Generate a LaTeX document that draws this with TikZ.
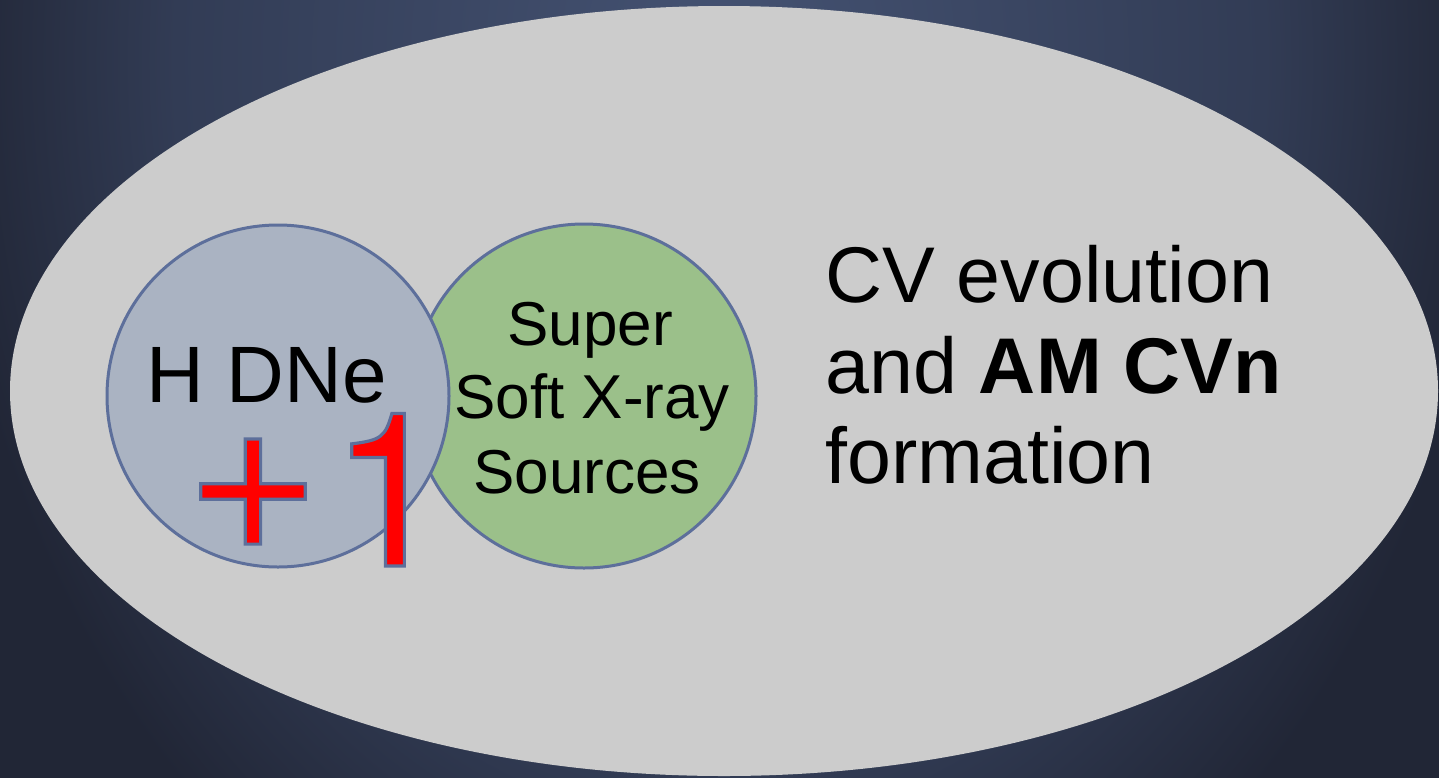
\documentclass[tikz,border=0pt]{standalone}
\usepackage{fontspec}
\setmainfont{Liberation Sans}
\newfontfamily\heros{TeX Gyre Heros}
\usetikzlibrary{shapes.geometric}
\definecolor{bgA}{HTML}{445272}
\definecolor{bgB}{HTML}{323C55}
\definecolor{bgC}{HTML}{212636}
\definecolor{ellgray}{HTML}{CCCCCC}
\definecolor{hdneblue}{HTML}{AAB3C2}
\definecolor{ssgreen}{HTML}{9BC08A}
\definecolor{rimblue}{HTML}{5D6F9B}
\pgfdeclareradialshading{bgshade}{\pgfpoint{0bp}{0bp}}{color(0bp)=(bgA); color(35bp)=(bgB); color(50bp)=(bgC)}
\newcommand\outlinedtext[1]{\special{pdf:literal direct 2 Tr 3.2 w 0.365 0.435 0.608 RG}#1\special{pdf:literal direct 0 Tr}}
\tikzset{
  bigell/.style={ellipse, fill=ellgray, draw=none, inner sep=0pt, minimum width=1428pt, minimum height=770pt},
  venn/.style={circle, draw=rimblue, line width=3pt, inner sep=0pt},
  lbl/.style={inner sep=0pt, text=black},
  hdnefont/.style={font=\fontsize{80}{96}\selectfont},
  ssfont/.style={font=\fontsize{62}{74}\selectfont},
  cvfont/.style={font=\fontsize{79}{90}\selectfont},
  plusone/.style={inner sep=0pt, text=red, font=\fontsize{215}{240}\selectfont}
}
\begin{document}
\begin{tikzpicture}[x=1pt,y=-1pt]
\useasboundingbox (0,0) rectangle (1439,777);
\fill[bgC] (-5,-5) rectangle (1444,782);
\begin{scope}[transform canvas={shift={(720,60)}, xscale=15.5, yscale=20}]
  \node[inner sep=0pt] (bgsh) at (0,0) {\pgfuseshading{bgshade}};
\end{scope}
\node[bigell] (field) at (724,391) {};
\node[venn, fill=ssgreen, minimum size=344pt] (sss) at (584,396) {};
\node[venn, fill=hdneblue, minimum size=342pt] (hdne) at (278,396) {};
\node[lbl, hdnefont, anchor=base] (hdnetxt) at (267,402) {H DNe};
\node[lbl, ssfont, anchor=base] (ss1) at (590,345) {Super};
\node[lbl, ssfont, anchor=base] (ss2) at (592,418) {Soft X-ray};
\node[lbl, ssfont, anchor=base] (ss3) at (587,493) {Sources};
\node[lbl, cvfont, anchor=base west] (cv1) at (825,302) {CV evolution};
\node[lbl, cvfont, anchor=base west] (cv2) at (825,393) {and \textbf{AM CVn}};
\node[lbl, cvfont, anchor=base west] (cv3) at (825,483) {formation};
\node[plusone, anchor=base west] (plus) at (190,566) {\outlinedtext{\raisebox{3pt}{+}\kern14pt{\heros 1}}};
\end{tikzpicture}
\end{document}
